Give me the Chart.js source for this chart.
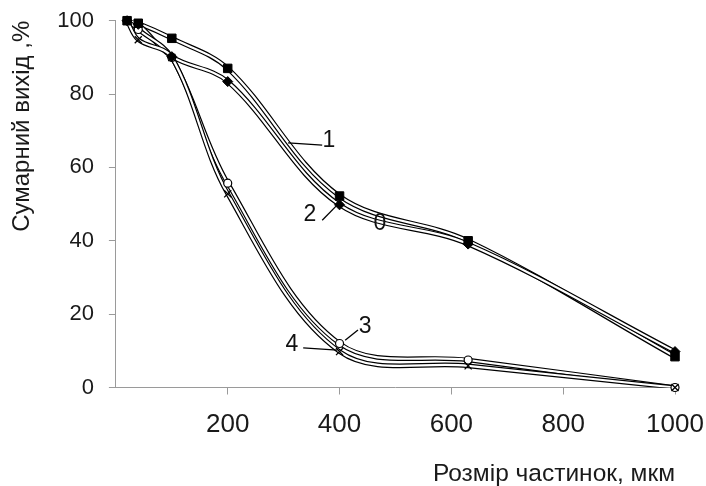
<!DOCTYPE html>
<html>
<head>
<meta charset="utf-8">
<script src="https://cdn.jsdelivr.net/npm/chart.js@4.4.0/dist/chart.umd.min.js"></script>
<style>
  html, body { margin: 0; padding: 0; background: #fff; }
  #wrap { width: 706px; height: 486px; }
</style>
</head>
<body>
<div id="wrap"><canvas id="sizeChart" width="706" height="486"></canvas></div>
<script>
// розмір частинок, мкм
const sizes = [20, 40, 100, 200, 400, 630, 1000];

// сумарний вихід, % (криві 1-4)
const series1 = [100, 99.3, 95.2, 87, 52.2, 40, 8.4];
const series2 = [100, 99, 90.2, 83.4, 49.8, 39.1, 9.8];
const series3 = [100, 97.6, 90, 55.7, 12, 7.5, 0];
const series4 = [100, 94.8, 90, 52.8, 9.8, 5.9, 0];

const xTicks = [200, 400, 600, 800, 1000];
const yTicks = [0, 20, 40, 60, 80, 100];

// підписи кривих: текст, місце (в одиницях осей), виносна лінія
const curveLabels = [
    { text: '1', x: 381, y: 67.2, line: [308, 66.7, 369, 66.1] },
    { text: '2', x: 347, y: 47, line: [369, 45.6, 396, 49.8] },
    { text: '0', x: 472, y: 44.8, line: null },
    { text: '3', x: 446, y: 16.5, line: [410, 12.9, 433, 15.7] },
    { text: '4', x: 315, y: 11.6, line: [335, 10.8, 396, 10.2] }
];

const FONT = '"Liberation Sans", Arial, sans-serif';
const AXIS_GREY = '#9a9a9a';

function toPoints(values) {
    return sizes.map((s, i) => ({ x: s, y: values[i] }));
}

// кожна крива: чорний контур + біла середина + маркери
function makeSeries(values, idx, marker) {
    const pts = toPoints(values);
    return [
        {
            data: pts, borderColor: '#000', borderWidth: 4.6, pointRadius: 0,
            tension: 0.35, fill: false, order: 20 - idx * 2
        },
        {
            data: pts, borderColor: '#fff', borderWidth: 2.2, pointRadius: 0,
            tension: 0.35, fill: false, order: 19 - idx * 2
        },
        Object.assign({
            data: pts, showLine: false, pointBorderColor: '#000',
            pointBorderWidth: 1, order: 0, clip: false
        }, marker)
    ];
}

const datasets = [].concat(
    makeSeries(series1, 0, { pointStyle: 'rect', pointRadius: 6, pointBackgroundColor: '#000' }),
    makeSeries(series2, 1, { pointStyle: 'rectRot', pointRadius: 5, pointBackgroundColor: '#000' }),
    makeSeries(series3, 2, { pointStyle: 'circle', pointRadius: 4, pointBackgroundColor: '#fff', pointBorderWidth: 1.2 }),
    makeSeries(series4, 3, { pointStyle: 'crossRot', pointRadius: 5, pointBorderWidth: 1.3, order: -1 })
);

// підписи 1-4 з виносками
const curveLabelPlugin = {
    id: 'curveLabels',
    afterDatasetsDraw(chart) {
        const ctx = chart.ctx;
        const xs = chart.scales.x;
        const ys = chart.scales.y;
        ctx.save();
        ctx.strokeStyle = '#000';
        ctx.lineWidth = 1.3;
        ctx.fillStyle = '#111';
        ctx.font = '23px ' + FONT;
        ctx.textAlign = 'center';
        ctx.textBaseline = 'middle';
        curveLabels.forEach(lb => {
            if (lb.line) {
                ctx.beginPath();
                ctx.moveTo(xs.getPixelForValue(lb.line[0]), ys.getPixelForValue(lb.line[1]));
                ctx.lineTo(xs.getPixelForValue(lb.line[2]), ys.getPixelForValue(lb.line[3]));
                ctx.stroke();
            }
            ctx.fillText(lb.text, xs.getPixelForValue(lb.x), ys.getPixelForValue(lb.y));
        });
        ctx.restore();
    }
};

const ctx = document.getElementById('sizeChart').getContext('2d');
new Chart(ctx, {
    type: 'line',
    data: { datasets: datasets },
    plugins: [curveLabelPlugin],
    options: {
        responsive: false,
        animation: false,
        devicePixelRatio: 1,
        layout: { padding: { top: 20.7, right: 31, left: 0, bottom: 0 } },
        plugins: { legend: { display: false }, tooltip: { enabled: false } },
        scales: {
            x: {
                type: 'linear',
                min: 0,
                max: 1000,
                afterBuildTicks: scale => { scale.ticks = xTicks.map(v => ({ value: v })); },
                afterFit: scale => {
                    scale.height = 98.5;
                    scale.paddingLeft = 0;
                    scale.paddingRight = 0;
                },
                grid: { drawOnChartArea: false, tickLength: 7, color: AXIS_GREY },
                border: { color: AXIS_GREY, width: 1 },
                ticks: {
                    font: { size: 26, family: FONT }, color: '#1a1a1a', padding: 15,
                    maxRotation: 0, autoSkip: false, callback: v => String(v)
                },
                title: {
                    display: true, text: 'Розмір частинок, мкм', align: 'end',
                    font: { size: 24.5, family: FONT, lineHeight: 1 }, color: '#1a1a1a', padding: 0
                }
            },
            y: {
                min: 0,
                max: 100,
                afterBuildTicks: scale => { scale.ticks = yTicks.map(v => ({ value: v })); },
                afterFit: scale => {
                    scale.width = 115.9;
                    scale.paddingTop = 0;
                    scale.paddingBottom = 0;
                },
                grid: { drawOnChartArea: false, tickLength: 7, color: AXIS_GREY },
                border: { color: AXIS_GREY, width: 1 },
                ticks: { font: { size: 22, family: FONT }, color: '#1a1a1a', padding: 15 },
                title: {
                    display: true, text: 'Сумарний вихід ,%', align: 'end',
                    font: { size: 24, family: FONT }, color: '#1a1a1a', padding: { top: 7.5, bottom: 0 }
                }
            }
        }
    }
});
</script>
</body>
</html>
